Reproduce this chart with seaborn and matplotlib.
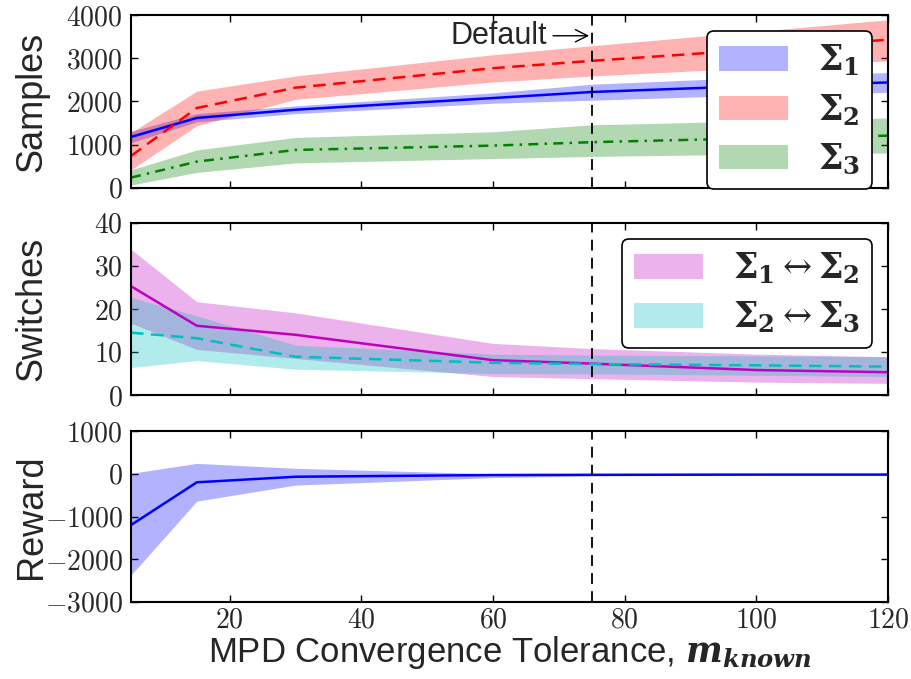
import numpy as np
import pandas as pd
import matplotlib
matplotlib.use("Agg")
import matplotlib.pyplot as plt
import matplotlib.patches as mpatches
from matplotlib.font_manager import FontProperties
from matplotlib.ticker import FuncFormatter, MultipleLocator
import seaborn as sns

# ---------------- data ----------------
tol = [5, 15, 30, 60, 75, 100, 120]

samples_s1 = [1180, 1620, 1810, 2080, 2220, 2360, 2440]
samples_s1_lo = [1050, 1530, 1720, 1960, 2030, 2150, 2210]
samples_s1_hi = [1310, 1720, 1900, 2200, 2400, 2560, 2670]

samples_s2 = [740, 1850, 2320, 2770, 2940, 3200, 3430]
samples_s2_lo = [420, 1440, 2050, 2450, 2590, 2780, 2940]
samples_s2_hi = [1280, 2240, 2590, 3080, 3290, 3620, 3890]

samples_s3 = [240, 610, 880, 980, 1060, 1150, 1210]
samples_s3_lo = [70, 360, 580, 680, 730, 780, 810]
samples_s3_hi = [420, 880, 1170, 1300, 1460, 1550, 1620]

sw12 = [25.3, 16.1, 14.0, 8.1, 7.3, 5.8, 5.3]
sw12_lo = [16.7, 10.6, 8.5, 4.3, 3.8, 3.0, 2.7]
sw12_hi = [33.9, 21.7, 19.1, 12.0, 10.8, 9.5, 8.9]

sw23 = [14.5, 13.2, 8.9, 7.5, 7.2, 6.9, 6.6]
sw23_lo = [6.4, 8.0, 6.0, 5.0, 4.9, 4.6, 4.3]
sw23_hi = [22.7, 18.4, 11.6, 9.5, 9.3, 9.1, 8.9]

reward = [-1200, -200, -70, -30, -25, -20, -20]
reward_lo = [-2370, -640, -265, -90, -50, -30, -25]
reward_hi = [10, 243, 127, 0, -5, -10, -15]

default_tol = 75

# ---------------- style ----------------
sns.set_style("ticks")
plt.rcParams['font.family'] = ['Liberation Sans', 'DejaVu Sans']
plt.rcParams['mathtext.fontset'] = 'cm'
plt.rcParams['xtick.direction'] = 'in'
plt.rcParams['ytick.direction'] = 'in'
plt.rcParams['xtick.top'] = True
plt.rcParams['ytick.right'] = True

fig = plt.figure(figsize=(9.12, 6.79), dpi=100)
L, W = 131 / 912, (888 - 131) / 912
ax1 = fig.add_axes([L, (679 - 188) / 679, W, 173 / 679])
ax2 = fig.add_axes([L, (679 - 395) / 679, W, 172 / 679])
ax3 = fig.add_axes([L, (679 - 602) / 679, W, 171 / 679])

fmt = FuncFormatter(lambda v, p: r'$%d$' % int(round(v)))
legprop = FontProperties(family='DejaVu Serif', size=25, math_fontfamily='dejavuserif')

def band(ax, y, lo, hi, color, ls, lw=1.8):
    ax.fill_between(tol, lo, hi, color=color, alpha=0.3, lw=0)
    sns.lineplot(x=tol, y=y, ax=ax, color=color, linestyle=ls, linewidth=lw)

# top
band(ax1, samples_s1, samples_s1_lo, samples_s1_hi, 'b', '-')
band(ax1, samples_s2, samples_s2_lo, samples_s2_hi, 'r', (0, (5, 3)))
band(ax1, samples_s3, samples_s3_lo, samples_s3_hi, 'g', (0, (4, 2.5, 1, 2.5)))
ax1.set_ylim(0, 4000)
ax1.yaxis.set_major_locator(MultipleLocator(1000))
ax1.set_ylabel('Samples', fontsize=26)
h1 = [mpatches.Patch(color=c, alpha=0.3, lw=0) for c in ['b', 'r', 'g']]
leg1 = ax1.legend(h1, [r'$\mathbf{\Sigma_1}$', r'$\mathbf{\Sigma_2}$', r'$\mathbf{\Sigma_3}$'],
                  loc='upper right', prop=legprop, fancybox=True, framealpha=1,
                  edgecolor='k', handlelength=2.0, handleheight=0.7,
                  handletextpad=0.85, labelspacing=0.4, borderaxespad=0.45,
                  borderpad=0.35)
leg1.get_frame().set_linewidth(1.2)
ax1.annotate('Default', xy=(74.6, 3520), xytext=(68.2, 3520),
             ha='right', va='center', fontsize=22,
             arrowprops=dict(arrowstyle='->', color='k', lw=1.0, shrinkA=2, shrinkB=0))

# middle
band(ax2, sw12, sw12_lo, sw12_hi, 'm', '-')
band(ax2, sw23, sw23_lo, sw23_hi, 'c', (0, (5, 3)))
ax2.set_ylim(0, 40)
ax2.yaxis.set_major_locator(MultipleLocator(10))
ax2.set_ylabel('Switches', fontsize=26)
h2 = [mpatches.Patch(color=c, alpha=0.3, lw=0) for c in ['m', 'c']]
leg2 = ax2.legend(h2, [r'$\mathbf{\Sigma_1} \leftrightarrow \mathbf{\Sigma_2}$',
                       r'$\mathbf{\Sigma_2} \leftrightarrow \mathbf{\Sigma_3}$'],
                  loc='upper right', prop=legprop, fancybox=True, framealpha=1,
                  edgecolor='k', handlelength=2.0, handleheight=0.7,
                  handletextpad=0.85, labelspacing=0.4, borderaxespad=0.45,
                  borderpad=0.35)
leg2.get_frame().set_linewidth(1.2)

# bottom
band(ax3, reward, reward_lo, reward_hi, 'b', '-')
ax3.set_ylim(-3000, 1000)
ax3.yaxis.set_major_locator(MultipleLocator(1000))
ax3.set_ylabel('Reward', fontsize=26)
ax3.set_xlabel(r'MPD Convergence Tolerance, $\mathbfit{m_{known}}$', fontsize=25,
               labelpad=0, math_fontfamily='dejavuserif')

for ax in (ax1, ax2, ax3):
    ax.axvline(default_tol, color='k', linestyle=(0, (6, 4)), lw=1.3, zorder=5)
    ax.set_xlim(5, 120)
    ax.xaxis.set_major_locator(MultipleLocator(20))
    ax.yaxis.set_major_formatter(fmt)
    ax.xaxis.set_major_formatter(fmt)
    ax.tick_params(axis='both', which='major', labelsize=20, length=5, width=1,
                   color='k', direction='in', top=True, right=True, pad=6)
    ax.tick_params(axis='x', pad=4)
    for s in ax.spines.values():
        s.set_linewidth(1.5)
        s.set_color('k')
    ax.yaxis.set_label_coords(-0.108, 0.5)
for ax in (ax1, ax2):
    ax.tick_params(labelbottom=False)

fig.savefig('out.png', dpi=100)
